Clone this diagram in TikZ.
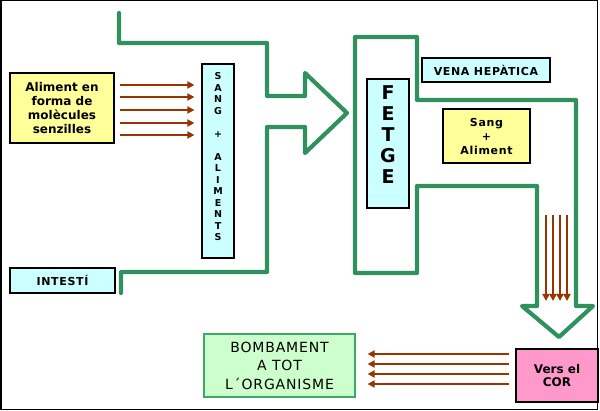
\documentclass[tikz,border=0pt]{standalone}
\usepackage{fontspec}
\setmainfont{DejaVu Sans}
\newfontfamily\spacedfont[LetterSpace=6]{DejaVu Sans}
\usetikzlibrary{arrows.meta}
\definecolor{pipe}{RGB}{48,145,95}
\definecolor{flow}{RGB}{153,51,0}
\definecolor{cyanbox}{RGB}{204,255,255}
\definecolor{yellowbox}{RGB}{255,255,153}
\definecolor{greenbox}{RGB}{204,255,204}
\definecolor{greenedge}{RGB}{60,170,100}
\definecolor{pinkbox}{RGB}{255,153,204}
\tikzset{
  box/.style={draw=black, line width=1.2pt, inner sep=0pt, align=center},
  cbox/.style={box, fill=cyanbox},
  ybox/.style={box, fill=yellowbox},
  pipeline/.style={draw=pipe, line width=4.2pt, line join=round, line cap=round},
  flowarrow/.style={draw=flow, line width=2pt, -{Triangle[length=7pt,width=7pt]}}
}
\begin{document}
\begin{tikzpicture}[x=1pt,y=-1pt]
\useasboundingbox (0,0) rectangle (600,411);
\draw[line width=1.5pt] (0.75,0.75) rectangle (597.5,409.5);

% green pipelines
\draw[pipeline] (119,13) -- (119,43) -- (267,43) -- (267,96) -- (305,96) -- (305,73)
  -- (347,113) -- (305,153) -- (305,127) -- (267,127) -- (267,272) -- (121,272) -- (121,293);
\draw[pipeline] (417,100) -- (417,37) -- (355,37) -- (355,273) -- (417,273) -- (417,186)
  -- (537,186) -- (537,306) -- (522,306) -- (559,337) -- (593,306) -- (576,306)
  -- (576,100) -- cycle;

% boxes
\node[ybox, minimum width=104pt, minimum height=70pt,
      font=\fontsize{12pt}{14pt}\selectfont\bfseries] (aliment) at (62,108)
  {Aliment en\\forma de\\molècules\\senzilles};
\node[cbox, minimum width=32pt, minimum height=194pt] (sang) at (218,161) {};
\node[font=\fontsize{9.5pt}{11.5pt}\selectfont\bfseries, align=center, inner sep=0pt]
  (sangtext) at (218,157) {S\\A\\N\\G\\[11.5pt]+\\[11.5pt]A\\L\\I\\M\\E\\N\\T\\S};
\node[cbox, minimum width=105pt, minimum height=25pt,
      font=\fontsize{11pt}{12pt}\selectfont\spacedfont\bfseries] (intesti) at (62.5,280.5) {INTESTÍ};
\node[cbox, minimum width=42pt, minimum height=129pt] (fetge) at (388,143.5) {};
\node[font=\fontsize{19pt}{21pt}\selectfont\bfseries, align=center, inner sep=0pt]
  (fetgetext) at (388,135) {F\\E\\T\\G\\E};
\node[cbox, minimum width=128pt, minimum height=24pt,
      font=\fontsize{11pt}{12pt}\selectfont\spacedfont\bfseries] (vena) at (486,70) {VENA HEPÀTICA};
\node[ybox, minimum width=87pt, minimum height=54pt,
      font=\fontsize{11pt}{14pt}\selectfont\spacedfont\bfseries] (sangal) at (486.5,136)
  {Sang\\+\\Aliment};
\node[box, draw=greenedge, fill=greenbox, minimum width=151pt, minimum height=63pt,
      font=\fontsize{14pt}{18.5pt}\selectfont\spacedfont] (bomb) at (279.5,365.5)
  {BOMBAMENT\\A TOT\\L´ORGANISME};
\node[box, fill=pinkbox, minimum width=82pt, minimum height=53pt,
      font=\fontsize{12pt}{13.5pt}\selectfont\bfseries] (cor) at (557,375.5)
  {Vers el\\COR};

% flow arrows: aliment -> sang
\foreach \yy in {85,97,110,123,135}
  \draw[flowarrow, shorten <=5pt, shorten >=7pt] (aliment.east |- 0,\yy) -- (sang.west |- 0,\yy);
% flow arrows: cor -> bombament
\foreach \yy in {354,364,374,384}
  \draw[flowarrow, shorten <=6pt, shorten >=12pt] (cor.west |- 0,\yy) -- (bomb.east |- 0,\yy);
% flow arrows down to the heart
\foreach \xx in {546,553,560,567}
  \draw[flowarrow] (\xx,215) -- (\xx,301);
\end{tikzpicture}
\end{document}
